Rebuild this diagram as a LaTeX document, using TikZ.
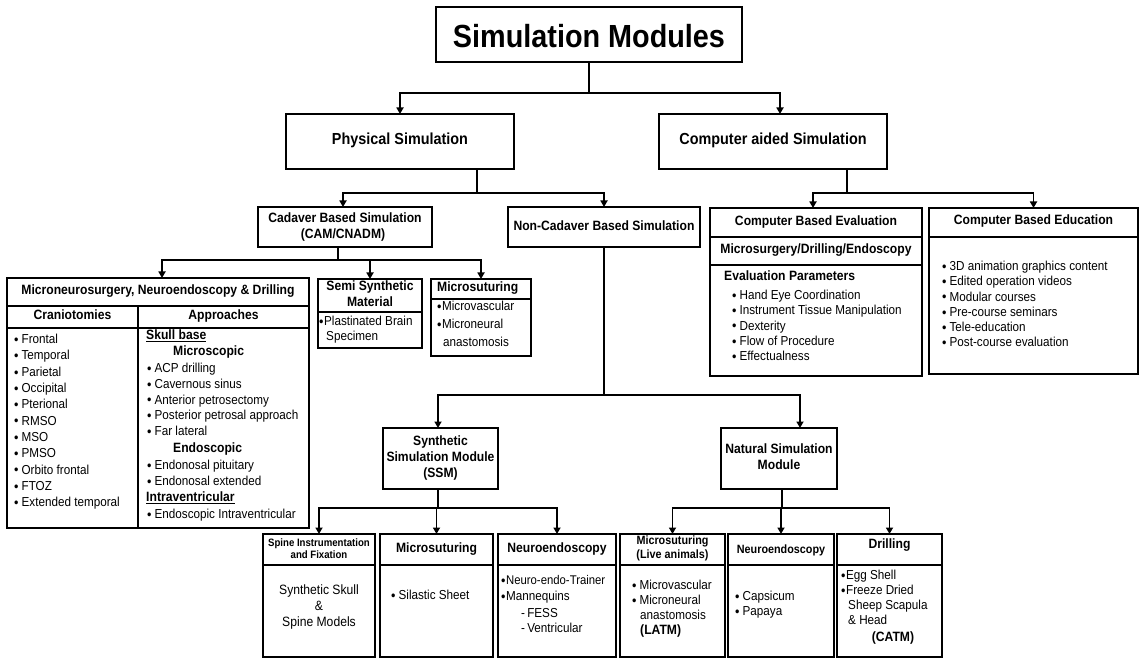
\documentclass[tikz,border=0pt]{standalone}
\usepackage{fontspec}
\setmainfont{Liberation Sans}[FakeStretch=0.9]
\usetikzlibrary{arrows.meta}
\newcommand{\bl}{{\fontsize{14}{14}\selectfont\raisebox{-0.8pt}{\textbullet}}\hspace{3pt}}
\newcommand{\blt}{{\fontsize{14}{14}\selectfont\raisebox{-0.8pt}{\textbullet}}\hspace{0.5pt}}
\begin{document}
\begin{tikzpicture}[x=1pt,y=-1pt,
  box/.style={draw, line width=1.5pt, inner sep=0pt, outer sep=0pt},
  ln/.style={line width=1.7pt},
  arr/.style={line width=1.7pt, -{Triangle[width=7pt,length=6.5pt]}},
  sep/.style={line width=1.5pt},
  tc/.style={anchor=mid, inner sep=0pt},
  tl/.style={anchor=mid west, inner sep=0pt},
  rg/.style={font=\fontsize{13}{15}\selectfont},
  hb/.style={font=\fontsize{13.5}{15}\selectfont\bfseries},
  hbs/.style={font=\fontsize{12}{14}\selectfont\bfseries}]
\useasboundingbox (0,0) rectangle (1141,660);

% ---------- title ----------
\node[box,minimum width=306pt,minimum height=55pt] (title) at (589,34.5) {};
\node[anchor=base,inner sep=0pt,font=\fontsize{32}{32}\selectfont\bfseries] (titleT) at (589,48) {Simulation Modules};

% ---------- level 1 ----------
\node[box,minimum width=228pt,minimum height=55pt] (phys) at (400,141.5) {};
\node[tc,font=\fontsize{16}{18}\selectfont\bfseries] (physT) at (400,142) {Physical Simulation};
\node[box,minimum width=228pt,minimum height=55pt] (comp) at (773,141.5) {};
\node[tc,font=\fontsize{16}{18}\selectfont\bfseries] (compT) at (773,142) {Computer aided Simulation};

% ---------- level 2 ----------
\node[box,minimum width=174pt,minimum height=40pt] (cad) at (345,227) {};
\node[tc,hb] (cadT1) at (345,220) {Cadaver Based Simulation};
\node[tc,hb] (cadT2) at (343,236) {(CAM/CNADM)};
\node[box,minimum width=192pt,minimum height=40pt] (noncad) at (604,227) {};
\node[tc,hb] (noncadT) at (604,228) {Non-Cadaver Based Simulation};

% Computer based evaluation
\node[box,minimum width=212pt,minimum height=168pt] (eval) at (816,292) {};
\draw[sep] (710,237) -- (922,237);
\draw[sep] (710,265) -- (922,265);
\node[tc,hb] (evT) at (816,223) {Computer Based Evaluation};
\node[tc,hb] (evS) at (816,251) {Microsurgery/Drilling/Endoscopy};
\node[tl,hb] (evP) at (724,278) {Evaluation Parameters};
\foreach \t [count=\i from 0] in {Hand Eye Coordination,Instrument Tissue Manipulation,Dexterity,Flow of Procedure,Effectualness}
  \node[tl,rg] (ev\i) at (732,{297+15.2*\i}) {\bl\t};

% Computer based education
\node[box,minimum width=209pt,minimum height=166pt] (edu) at (1033.5,291) {};
\draw[sep] (929,237) -- (1138,237);
\node[tc,hb] (edT) at (1033.5,222) {Computer Based Education};
\foreach \t [count=\i from 0] in {3D animation graphics content,Edited operation videos,Modular courses,Pre-course seminars,Tele-education,Post-course evaluation}
  \node[tl,rg] (ed\i) at (942,{268+15.2*\i}) {\bl\t};

% ---------- cadaver children ----------
\node[box,minimum width=302pt,minimum height=250pt] (mnd) at (158,403) {};
\draw[sep] (7,306) -- (309,306);
\draw[sep] (7,328) -- (309,328);
\draw[sep] (138,306) -- (138,528);
\node[tc,hb] (mndT) at (158,292) {Microneurosurgery, Neuroendoscopy \& Drilling};
\node[tc,hb] (cran) at (72.5,317) {Craniotomies};
\node[tc,hb] (appr) at (223.5,317) {Approaches};
\foreach \t [count=\i from 0] in {Frontal,Temporal,Parietal,Occipital,Pterional,RMSO,MSO,PMSO,Orbito frontal,FTOZ,Extended temporal}
  \node[tl,rg] (cr\i) at (14,{341+16.3*\i}) {\bl\t};
\node[tl,hb] (sb) at (146,337) {\underline{Skull base}};
\node[tl,hb] (msc) at (173,353) {Microscopic};
\foreach \t [count=\i from 0] in {ACP drilling,Cavernous sinus,Anterior petrosectomy,Posterior petrosal approach,Far lateral}
  \node[tl,rg] (ap\i) at (147,{370+15.7*\i}) {\bl\t};
\node[tl,hb] (endo) at (173,450) {Endoscopic};
\node[tl,rg] (en1) at (147,467) {\bl Endonosal pituitary};
\node[tl,rg] (en2) at (147,483) {\bl Endonosal extended};
\node[tl,hb] (iv) at (146,499) {\underline{Intraventricular}};
\node[tl,rg] (eiv) at (147,516) {\bl Endoscopic Intraventricular};

\node[box,minimum width=104pt,minimum height=69pt] (semi) at (370,313.5) {};
\draw[sep] (318,312) -- (422,312);
\node[tc,hb] (semiT1) at (370,288) {Semi Synthetic};
\node[tc,hb] (semiT2) at (370,304) {Material};
\node[tl,rg] (semiB1) at (319,323) {\blt Plastinated Brain};
\node[tl,rg] (semiB2) at (326,338) {Specimen};

\node[box,minimum width=100pt,minimum height=77pt] (mic1) at (481,317.5) {};
\draw[sep] (431,299) -- (531,299);
\node[tl,hb] (mic1T) at (437,289) {Microsuturing};
\node[tl,rg] (mic1a) at (437,308) {\blt Microvascular};
\node[tl,rg] (mic1b) at (437,326) {\blt Microneural};
\node[tl,rg] (mic1c) at (443,344) {anastomosis};

% ---------- non-cadaver children ----------
\node[box,minimum width=115pt,minimum height=61pt] (ssm) at (440.5,458.5) {};
\node[tc,hb] (ssmT1) at (440.5,443) {Synthetic};
\node[tc,hb] (ssmT2) at (440.5,459) {Simulation Module};
\node[tc,hb] (ssmT3) at (440.5,475) {(SSM)};
\node[box,minimum width=116pt,minimum height=61pt] (nat) at (779,458.5) {};
\node[tc,hb] (natT1) at (779,451) {Natural Simulation};
\node[tc,hb] (natT2) at (779,467) {Module};

% ---------- bottom row ----------
\node[box,minimum width=112pt,minimum height=123pt] (spine) at (319,595.5) {};
\draw[sep] (263,565) -- (375,565);
\node[tc,font=\fontsize{10.7}{12}\selectfont\bfseries] (spT1) at (319,544) {Spine Instrumentation};
\node[tc,font=\fontsize{10.7}{12}\selectfont\bfseries] (spT2) at (319,556) {and Fixation};
\node[tc,font=\fontsize{13.5}{15}\selectfont] (spB1) at (319,592) {Synthetic Skull};
\node[tc,font=\fontsize{13.5}{15}\selectfont] (spB2) at (319,608) {\&};
\node[tc,font=\fontsize{13.5}{15}\selectfont] (spB3) at (319,624) {Spine Models};

\node[box,minimum width=113pt,minimum height=123pt] (mic2) at (436.5,595.5) {};
\draw[sep] (380,565) -- (493,565);
\node[tc,hb] (mic2T) at (436.5,550) {Microsuturing};
\node[tl,rg] (mic2a) at (391,597) {\bl Silastic Sheet};

\node[box,minimum width=118pt,minimum height=123pt] (neu1) at (557,595.5) {};
\draw[sep] (498,565) -- (616,565);
\node[tc,hb] (neu1T) at (557,550) {Neuroendoscopy};
\node[tl,font=\fontsize{12.6}{15}\selectfont] (neu1a) at (501,582) {\blt Neuro-endo-Trainer};
\node[tl,rg] (neu1b) at (501,598) {\blt Mannequins};
\node[tl,rg] (neu1c) at (521,615) {-\,FESS};
\node[tl,rg] (neu1d) at (521,630) {-\,Ventricular};

\node[box,minimum width=105pt,minimum height=123pt] (latm) at (672.5,595.5) {};
\draw[sep] (620,565) -- (725,565);
\node[tc,hbs] (latmT1) at (672.5,542) {Microsuturing};
\node[tc,hbs] (latmT2) at (672.5,556) {(Live animals)};
\node[tl,rg] (latma) at (632,587) {\bl Microvascular};
\node[tl,rg] (latmb) at (632,602) {\bl Microneural};
\node[tl,rg] (latmc) at (640,617) {anastomosis};
\node[tl,hb] (latmd) at (640,632) {(LATM)};

\node[box,minimum width=106pt,minimum height=123pt] (neu2) at (781,595.5) {};
\draw[sep] (728,565) -- (834,565);
\node[tc,hbs] (neu2T) at (781,551) {Neuroendoscopy};
\node[tl,rg] (neu2a) at (735,598) {\bl Capsicum};
\node[tl,rg] (neu2b) at (735,613) {\bl Papaya};

\node[box,minimum width=105pt,minimum height=123pt] (drill) at (889.5,595.5) {};
\draw[sep] (837,565) -- (942,565);
\node[tc,hb] (drillT) at (889.5,546) {Drilling};
\node[tl,rg] (drilla) at (841,577) {\blt Egg Shell};
\node[tl,rg] (drillb) at (841,592) {\blt Freeze Dried};
\node[tl,rg] (drillc) at (848,607) {Sheep Scapula};
\node[tl,rg] (drilld) at (848,622) {\& Head};
\node[tc,hb] (drille) at (893,639) {(CATM)};

% ---------- connectors ----------
\coordinate (j1) at (589,93);
\draw[ln] (title.south) -- (j1);
\draw[arr] (j1) -| (phys.north);
\draw[arr] (j1) -| ([xshift=7pt]comp.north);

\draw[ln] ([xshift=77pt]phys.south) -- ++(0,24) coordinate (j2);
\draw[arr] (j2) -| ([xshift=-2pt]cad.north);
\draw[arr] (j2) -| (noncad.north);

\draw[ln] ([xshift=74pt]comp.south) -- ++(0,24) coordinate (j3);
\draw[arr] (j3) -| ([xshift=-3pt]eval.north);
\draw[arr] (j3) -| (edu.north);

\draw[ln] ([xshift=-7pt]cad.south) -- ++(0,13) coordinate (j4);
\draw[arr] (j4) -| ([xshift=4pt]mnd.north);
\draw[arr] (j4) -| (semi.north);
\draw[arr] (j4) -| (mic1.north);

\draw[ln] (noncad.south) -- ++(0,148) coordinate (j5);
\draw[arr] (j5) -| ([xshift=-2.5pt]ssm.north);
\draw[arr] (j5) -| ([xshift=21pt]nat.north);

\draw[ln] ([xshift=-2.5pt]ssm.south) -- ++(0,19) coordinate (j6);
\draw[arr] (j6) -| (spine.north);
\draw[arr] (j6) -| (mic2.north);
\draw[arr] (j6) -| (neu1.north);

\draw[ln] ([xshift=3pt]nat.south) -- ++(0,19) coordinate (j7);
\draw[arr] (j7) -| (latm.north);
\draw[arr] (j7) -| (neu2.north);
\draw[arr] (j7) -| (drill.north);
\end{tikzpicture}
\end{document}
